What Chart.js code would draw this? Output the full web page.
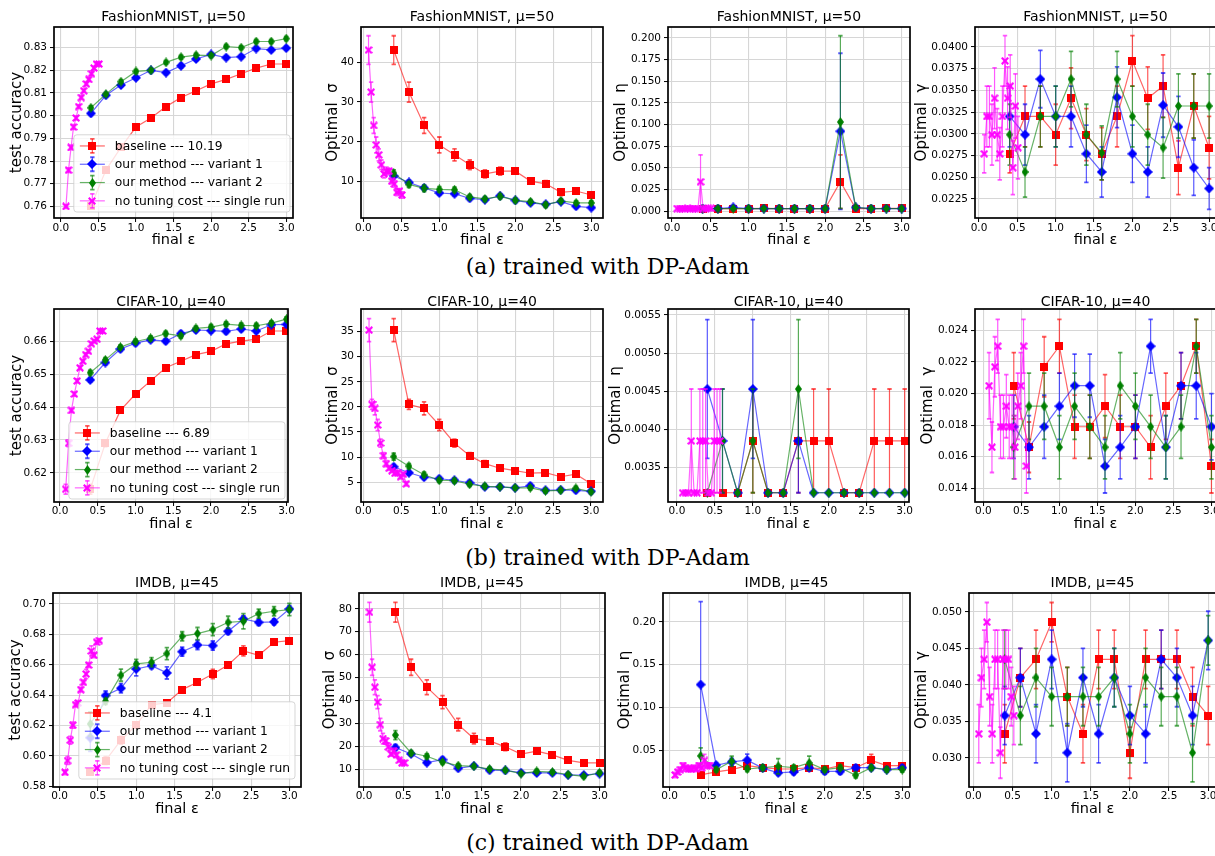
<!DOCTYPE html>
<html><head><meta charset="utf-8">
<script src="https://cdn.jsdelivr.net/npm/chart.js@4.4.0/dist/chart.umd.min.js"></script>
<style>
html,body{margin:0;padding:0;background:#fff;width:1215px;height:856px;overflow:hidden;position:relative;}
canvas{position:absolute;}
.cap{position:absolute;left:0;width:1215px;text-align:center;font-family:"DejaVu Serif",serif;font-size:22px;line-height:26px;color:#000;}
</style></head><body>
<div class="cap" style="top:254px">(a) trained with DP-Adam</div>
<div class="cap" style="top:545px">(b) trained with DP-Adam</div>
<div class="cap" style="top:830px">(c) trained with DP-Adam</div>
<script>
// ---------------- data ----------------
const EPS = [0.4,0.6,0.8,1.0,1.2,1.4,1.6,1.8,2.0,2.2,2.4,2.6,2.8,3.0];
const X_TICKS = [0.0,0.5,1.0,1.5,2.0,2.5,3.0];
const FM_EPS_SINGLE = [0.068,0.102,0.136,0.169,0.203,0.237,0.271,0.305,0.339,0.373,0.407,0.441,0.475,0.508];
const CF_EPS_SINGLE = [0.075,0.113,0.151,0.189,0.226,0.264,0.302,0.340,0.377,0.415,0.453,0.491,0.528,0.566];
const IM_EPS_SINGLE = [0.069,0.103,0.138,0.172,0.207,0.241,0.276,0.310,0.345,0.379,0.414,0.448,0.483,0.517];

const LEG_FM = ['baseline --- 10.19','our method --- variant 1','our method --- variant 2','no tuning cost --- single run'];
const LEG_CF = ['baseline --- 6.89','our method --- variant 1','our method --- variant 2','no tuning cost --- single run'];
const LEG_IM = ['baseline --- 4.1','our method --- variant 1','our method --- variant 2','no tuning cost --- single run'];

// FashionMNIST, mu=50
const FM_ACC_BASE = [0.760,0.776,0.786,0.795,0.799,0.804,0.808,0.811,0.814,0.816,0.8185,0.821,0.8228,0.8228];
const FM_ACC_BASE_ERR = [0.0008,0.001,0.001,0.001,0.0008,0.0008,0.0008,0.0007,0.0007,0.0007,0.0007,0.0007,0.0006,0.0006];
const FM_ACC_V1 = [0.801,0.809,0.8135,0.8167,0.820,0.819,0.822,0.825,0.827,0.8256,0.826,0.8296,0.829,0.8298];
const FM_ACC_V1_ERR = [0.0008,0.0008,0.0008,0.0008,0.0007,0.0008,0.001,0.0008,0.0007,0.0008,0.0008,0.0008,0.0007,0.0007];
const FM_ACC_V2 = [0.8035,0.8095,0.815,0.8195,0.820,0.8235,0.8258,0.8267,0.8265,0.8305,0.830,0.8327,0.8327,0.834];
const FM_ACC_V2_ERR = [0.0008,0.0008,0.0008,0.0008,0.0008,0.0008,0.0008,0.0008,0.0008,0.0008,0.0008,0.0008,0.0008,0.0009];
const FM_ACC_TICKS = [0.76,0.77,0.78,0.79,0.80,0.81,0.82,0.83];

const FM_SIG_BASE = [43.1,32.5,24.1,19.2,16.7,14.2,11.9,12.6,12.6,10.1,9.4,7.25,7.6,6.6];
const FM_SIG_BASE_ERR = [3.6,2.5,2.0,2.0,1.5,1.2,1.0,1.0,0.6,0.7,0.8,0.8,0.6,0.8];
const FM_SIG_V1 = [11.4,9.75,8.4,7.1,6.9,5.75,5.4,6.4,5.25,4.6,4.25,4.9,3.75,3.4];
const FM_SIG_V1_ERR = [0.6,0.6,0.6,0.5,0.5,0.5,0.5,0.5,0.5,0.5,0.5,0.5,0.5,0.5];
const FM_SIG_V2 = [12.1,9.25,8.25,8.0,7.9,6.1,5.6,6.25,5.25,4.9,4.1,5.1,4.6,4.6];
const FM_SIG_V2_ERR = [0.8,0.7,0.8,0.7,0.7,0.6,0.6,0.6,0.5,0.5,0.6,0.5,0.5,0.5];
const FM_SIG_TICKS = [10,20,30,40];

const FM_ETA_BASE = [0.0032,0.0032,0.0032,0.0032,0.0035,0.0032,0.0032,0.0032,0.0032,0.0341,0.0032,0.0032,0.0035,0.0035];
const FM_ETA_BASE_ERR = [0,0,0,0,0,0,0,0,0,0.031,0,0,0,0];
const FM_ETA_V1 = [0.0032,0.0032,0.0045,0.0032,0.0032,0.0032,0.0032,0.0032,0.0032,0.0923,0.0045,0.0032,0.0032,0.0032];
const FM_ETA_V1_ERR = [0,0,0,0,0,0,0,0,0,0.090,0,0,0,0];
const FM_ETA_V2 = [0.0032,0.0032,0.0032,0.0032,0.0032,0.0032,0.0032,0.0032,0.0032,0.103,0.0045,0.0032,0.0032,0.0032];
const FM_ETA_V2_ERR = [0,0,0,0,0,0,0,0,0,0.0995,0,0,0,0];
const FM_ETA_TICKS = [0.000,0.025,0.050,0.075,0.100,0.125,0.150,0.175,0.200];

const FM_GAM_BASE = [0.0277,0.0320,0.0320,0.0299,0.0341,0.0299,0.0277,0.0320,0.0384,0.0341,0.0355,0.0261,0.0332,0.0284];
const FM_GAM_BASE_ERR = [0.0022,0.0035,0.0035,0.0035,0.0035,0.0030,0.0030,0.0035,0.0029,0.0036,0.0036,0.0031,0.0037,0.0036];
const FM_GAM_V1 = [0.0320,0.0299,0.0363,0.0320,0.0320,0.0277,0.0256,0.0342,0.0277,0.0256,0.0333,0.0308,0.0261,0.0237];
const FM_GAM_V1_ERR = [0.0035,0.0035,0.0033,0.0035,0.0035,0.0033,0.0029,0.0035,0.0033,0.0029,0.0037,0.0035,0.0032,0.0024];
const FM_GAM_V2 = [0.0299,0.0256,0.0320,0.0320,0.0363,0.0299,0.0278,0.0363,0.0320,0.0299,0.0284,0.0332,0.0332,0.0332];
const FM_GAM_V2_ERR = [0.0035,0.0029,0.0035,0.0035,0.0032,0.0035,0.0031,0.0032,0.0035,0.0035,0.0035,0.0037,0.0037,0.0037];
const FM_GAM_TICKS = [0.0225,0.0250,0.0275,0.0300,0.0325,0.0350,0.0375,0.0400];

// CIFAR-10, mu=40
const CF_ACC_BASE = [0.615,0.629,0.639,0.644,0.648,0.652,0.654,0.656,0.657,0.6593,0.6601,0.6607,0.6632,0.6632];
const CF_ACC_BASE_ERR = [0.0015,0.001,0.0006,0.0006,0.0006,0.0006,0.0005,0.0005,0.0005,0.0005,0.0005,0.0005,0.0005,0.0005];
const CF_ACC_V1 = [0.6483,0.6536,0.6577,0.6595,0.6605,0.6601,0.6624,0.6635,0.6633,0.6631,0.6638,0.6632,0.6651,0.6652];
const CF_ACC_V1_ERR = [0.0007,0.0007,0.0007,0.0007,0.0007,0.0007,0.0007,0.0007,0.0007,0.0007,0.0007,0.0007,0.0007,0.0007];
const CF_ACC_V2 = [0.6505,0.6544,0.6583,0.6600,0.6610,0.6624,0.6617,0.6640,0.6644,0.6653,0.6649,0.6648,0.6656,0.6668];
const CF_ACC_V2_ERR = [0.0007,0.0007,0.0007,0.0007,0.0007,0.0007,0.0007,0.0007,0.0007,0.0007,0.0007,0.0007,0.0007,0.0007];
const CF_ACC_TICKS = [0.62,0.63,0.64,0.65,0.66];

const CF_SIG_BASE = [35.3,20.5,19.7,16.4,12.8,10.3,8.7,7.8,7.3,6.8,6.9,6.1,6.6,4.7];
const CF_SIG_BASE_ERR = [2.3,1.0,1.3,1.1,0.8,0.6,0.6,0.4,0.4,0.4,0.4,0.4,0.4,0.4];
const CF_SIG_V1 = [8.1,6.9,6.0,5.7,5.4,4.9,4.1,4.1,3.9,4.3,3.4,3.5,3.4,3.2];
const CF_SIG_V1_ERR = [0.4,0.4,0.4,0.4,0.4,0.4,0.4,0.4,0.4,0.4,0.4,0.4,0.4,0.4];
const CF_SIG_V2 = [10.1,8.2,6.5,5.4,5.3,4.6,4.2,4.1,3.9,3.9,3.3,3.4,3.8,3.1];
const CF_SIG_V2_ERR = [0.7,0.5,0.5,0.4,0.4,0.4,0.4,0.4,0.4,0.4,0.4,0.4,0.4,0.4];
const CF_SIG_TICKS = [5,10,15,20,25,30,35];

const CF_ETA_BASE = [0.00317,0.00317,0.00317,0.00385,0.00317,0.00317,0.00385,0.00385,0.00385,0.00317,0.00317,0.00385,0.00385,0.00385];
const CF_ETA_BASE_ERR = [0,0,0,0.00068,0,0,0.00068,0.00068,0.00068,0,0,0.00068,0.00068,0.00068];
const CF_ETA_V1 = [0.00453,0.00385,0.00317,0.00453,0.00317,0.00317,0.00385,0.00317,0.00317,0.00317,0.00317,0.00317,0.00317,0.00317];
const CF_ETA_V1_ERR = [0.00091,0.00068,0,0.00091,0,0,0.00068,0,0,0,0,0,0,0];
const CF_ETA_V2 = [0.00317,0.00385,0.00317,0.00385,0.00317,0.00317,0.00453,0.00317,0.00317,0.00317,0.00317,0.00317,0.00317,0.00317];
const CF_ETA_V2_ERR = [0,0.00068,0,0.00068,0,0,0.00091,0,0,0,0,0,0,0];
const CF_ETA_TICKS = [0.0035,0.0040,0.0045,0.0050,0.0055];

const CF_GAM_BASE = [0.0205,0.0166,0.0217,0.0230,0.0179,0.0179,0.0192,0.0179,0.0179,0.0166,0.0192,0.0205,0.0230,0.0154];
const CF_GAM_BASE_ERR = [0.0021,0.0016,0.0019,0.0017,0.0020,0.0020,0.0020,0.0020,0.0020,0.0020,0.0021,0.0021,0.0017,0.0017];
const CF_GAM_V1 = [0.0179,0.0166,0.0179,0.0192,0.0205,0.0205,0.0154,0.0166,0.0179,0.0230,0.0166,0.0205,0.0205,0.0179];
const CF_GAM_V1_ERR = [0.0020,0.0020,0.0020,0.0021,0.0020,0.0020,0.0017,0.0020,0.0020,0.0017,0.0020,0.0021,0.0021,0.0021];
const CF_GAM_V2 = [0.0166,0.0192,0.0192,0.0166,0.0192,0.0179,0.0166,0.0205,0.0192,0.0179,0.0166,0.0179,0.0230,0.0166];
const CF_GAM_V2_ERR = [0.0020,0.0021,0.0021,0.0020,0.0021,0.0020,0.0020,0.0021,0.0021,0.0020,0.0020,0.0020,0.0017,0.0020];
const CF_GAM_TICKS = [0.014,0.016,0.018,0.020,0.022,0.024];

// IMDB, mu=45
const IM_ACC_BASE = [0.5892,0.5969,0.6103,0.6202,0.6337,0.6348,0.6436,0.6484,0.6539,0.6598,0.6691,0.6662,0.6748,0.6759];
const IM_ACC_BASE_ERR = [0.0015,0.0025,0.0025,0.002,0.0015,0.0015,0.0015,0.0015,0.003,0.0015,0.0033,0.0015,0.0012,0.0012];
const IM_ACC_V1 = [0.612,0.6397,0.6445,0.6572,0.6594,0.6546,0.6686,0.6730,0.6726,0.6820,0.6901,0.6879,0.6882,0.6967];
const IM_ACC_V1_ERR = [0.009,0.003,0.003,0.0045,0.002,0.004,0.003,0.003,0.003,0.002,0.002,0.002,0.002,0.002];
const IM_ACC_V2 = [0.621,0.6359,0.6531,0.6605,0.6616,0.6673,0.6787,0.6805,0.6831,0.6879,0.6886,0.6936,0.6952,0.6963];
const IM_ACC_V2_ERR = [0.008,0.002,0.004,0.003,0.003,0.004,0.003,0.004,0.004,0.004,0.005,0.003,0.003,0.004];
const IM_ACC_TICKS = [0.58,0.60,0.62,0.64,0.66,0.68,0.70];

const IM_SIG_BASE = [78.5,54.5,45.8,39.3,29.5,23.4,22.4,19.8,16.6,17.9,16.3,13.9,12.8,12.8];
const IM_SIG_BASE_ERR = [4.3,3.5,3.2,2.8,2.7,2.3,1.3,1.7,0.8,1.3,1.0,0.7,1.2,0.8];
const IM_SIG_V1 = [19.5,16.7,12.9,14.2,10.4,11.5,9.6,9.5,8.5,8.4,8.4,7.5,7.5,8.1];
const IM_SIG_V1_ERR = [1.2,1.0,1.0,1.0,0.8,0.8,0.8,0.8,0.8,0.8,0.8,0.8,0.8,0.8];
const IM_SIG_V2 = [24.9,17.1,15.7,13.1,11.6,11.3,10.1,9.6,8.1,9.1,8.8,7.7,6.9,8.5];
const IM_SIG_V2_ERR = [2.0,1.0,1.0,1.0,0.8,0.8,0.8,0.8,0.8,0.8,0.8,0.8,0.8,0.8];
const IM_SIG_TICKS = [10,20,30,40,50,60,70,80];

const IM_ETA_BASE = [0.021,0.0245,0.0272,0.032,0.0295,0.028,0.028,0.0295,0.028,0.032,0.0295,0.038,0.032,0.032];
const IM_ETA_BASE_ERR = [0.003,0.003,0.003,0.003,0.003,0.003,0.003,0.003,0.003,0.003,0.003,0.007,0.003,0.003];
const IM_ETA_V1 = [0.1268,0.0324,0.0363,0.0383,0.029,0.0235,0.0245,0.0295,0.0251,0.0251,0.0295,0.0295,0.0272,0.0295];
const IM_ETA_V1_ERR = [0.097,0.003,0.004,0.007,0.003,0.003,0.003,0.003,0.003,0.003,0.003,0.003,0.003,0.003];
const IM_ETA_V2 = [0.0433,0.0272,0.0370,0.028,0.0295,0.0312,0.0295,0.035,0.0272,0.0295,0.0207,0.0295,0.0272,0.0272];
const IM_ETA_V2_ERR = [0.0094,0.003,0.006,0.003,0.003,0.009,0.003,0.008,0.003,0.003,0.003,0.003,0.003,0.003];
const IM_ETA_TICKS = [0.05,0.10,0.15,0.20];

const IM_GAM_BASE = [0.0333,0.0410,0.0435,0.0486,0.0384,0.0333,0.0435,0.0435,0.0307,0.0435,0.0435,0.0435,0.0384,0.0358];
const IM_GAM_BASE_ERR = [0.004,0.004,0.004,0.0027,0.004,0.004,0.004,0.004,0.0035,0.004,0.004,0.004,0.004,0.004];
const IM_GAM_V1 = [0.0358,0.0410,0.0333,0.0435,0.0307,0.0410,0.0333,0.0410,0.0358,0.0333,0.0435,0.0410,0.0358,0.0461];
const IM_GAM_V1_ERR = [0.004,0.004,0.004,0.004,0.004,0.004,0.004,0.004,0.004,0.004,0.004,0.004,0.004,0.004];
const IM_GAM_V2 = [0.0435,0.0358,0.0410,0.0384,0.0384,0.0384,0.0384,0.0410,0.0333,0.0410,0.0384,0.0384,0.0307,0.0461];
const IM_GAM_V2_ERR = [0.004,0.004,0.004,0.004,0.004,0.004,0.004,0.004,0.004,0.004,0.004,0.004,0.004,0.0034];
const IM_GAM_TICKS = [0.030,0.035,0.040,0.045,0.050];

// ---------------- layout / panels ----------------
const PANELS = [
 {box:[54,27,293,218], xr:[-0.091,3.09], tCY:17, yCX:17, xCY:240, xPad:0, title:'FashionMNIST, μ=50', ylab:'test accuracy', yr:[0.7549,0.8391], yt:FM_ACC_TICKS, dec:2,
  base:FM_ACC_BASE, baseErr:FM_ACC_BASE_ERR, v1:FM_ACC_V1, v1Err:FM_ACC_V1_ERR, v2:FM_ACC_V2, v2Err:FM_ACC_V2_ERR, xs1:FM_EPS_SINGLE, labels:LEG_FM, legend:{r:3,b:6}},
 {box:[361,27,603,218], xr:[-0.031,3.154], tCY:17, yCX:333, xCY:240, xPad:0, title:'FashionMNIST, μ=50', ylab:'Optimal  σ', yr:[0.8,48.9], yt:FM_SIG_TICKS, dec:0,
  base:FM_SIG_BASE, baseErr:FM_SIG_BASE_ERR, v1:FM_SIG_V1, v1Err:FM_SIG_V1_ERR, v2:FM_SIG_V2, v2Err:FM_SIG_V2_ERR, xs1:FM_EPS_SINGLE, labels:LEG_FM},
 {box:[668,27,910,218], xr:[-0.052,3.109], tCY:17, yCX:621, xCY:240, xPad:0, title:'FashionMNIST, μ=50', ylab:'Optimal  η', yr:[-0.0077,0.2126], yt:FM_ETA_TICKS, dec:3,
  base:FM_ETA_BASE, baseErr:FM_ETA_BASE_ERR, v1:FM_ETA_V1, v1Err:FM_ETA_V1_ERR, v2:FM_ETA_V2, v2Err:FM_ETA_V2_ERR, xs1:FM_EPS_SINGLE, labels:LEG_FM},
 {box:[975,27,1216,218], xr:[-0.052,3.09], tCY:17, yCX:922, xCY:240, xPad:0, title:'FashionMNIST, μ=50', ylab:'Optimal  γ', yr:[0.0203,0.0423], yt:FM_GAM_TICKS, dec:4,
  base:FM_GAM_BASE, baseErr:FM_GAM_BASE_ERR, v1:FM_GAM_V1, v1Err:FM_GAM_V1_ERR, v2:FM_GAM_V2, v2Err:FM_GAM_V2_ERR, xs1:FM_EPS_SINGLE, labels:LEG_FM},

 {box:[54,309,288,502], xr:[-0.08,3.02], tCY:302, yCX:17, xCY:524, xPad:-1, title:'CIFAR-10, μ=40', ylab:'test accuracy', yr:[0.6111,0.6699], yt:CF_ACC_TICKS, dec:2,
  base:CF_ACC_BASE, baseErr:CF_ACC_BASE_ERR, v1:CF_ACC_V1, v1Err:CF_ACC_V1_ERR, v2:CF_ACC_V2, v2Err:CF_ACC_V2_ERR, xs1:CF_EPS_SINGLE, labels:LEG_CF, legend:{r:3,b:3}},
 {box:[361,309,603,502], xr:[-0.031,3.158], tCY:302, yCX:333, xCY:524, xPad:-1, title:'CIFAR-10, μ=40', ylab:'Optimal  σ', yr:[1.07,39.5], yt:CF_SIG_TICKS, dec:0,
  base:CF_SIG_BASE, baseErr:CF_SIG_BASE_ERR, v1:CF_SIG_V1, v1Err:CF_SIG_V1_ERR, v2:CF_SIG_V2, v2Err:CF_SIG_V2_ERR, xs1:CF_EPS_SINGLE, labels:LEG_CF},
 {box:[668,309,909,502], xr:[-0.118,3.057], tCY:302, yCX:616, xCY:524, xPad:-1, title:'CIFAR-10, μ=40', ylab:'Optimal  η', yr:[0.003049,0.005579], yt:CF_ETA_TICKS, dec:4,
  base:CF_ETA_BASE, baseErr:CF_ETA_BASE_ERR, v1:CF_ETA_V1, v1Err:CF_ETA_V1_ERR, v2:CF_ETA_V2, v2Err:CF_ETA_V2_ERR, xs1:CF_EPS_SINGLE, labels:LEG_CF},
 {box:[975,309,1216,502], xr:[-0.11,3.06], tCY:302, yCX:928, xCY:524, xPad:-1, title:'CIFAR-10, μ=40', ylab:'Optimal  γ', yr:[0.01313,0.02536], yt:CF_GAM_TICKS, dec:3,
  base:CF_GAM_BASE, baseErr:CF_GAM_BASE_ERR, v1:CF_GAM_V1, v1Err:CF_GAM_V1_ERR, v2:CF_GAM_V2, v2Err:CF_GAM_V2_ERR, xs1:CF_EPS_SINGLE, labels:LEG_CF},

 {box:[53,593,301,787], xr:[-0.087,3.152], tCY:583, yCX:16, xCY:809, xPad:-1, title:'IMDB, μ=45', ylab:'test accuracy', yr:[0.5795,0.7072], yt:IM_ACC_TICKS, dec:2,
  base:IM_ACC_BASE, baseErr:IM_ACC_BASE_ERR, v1:IM_ACC_V1, v1Err:IM_ACC_V1_ERR, v2:IM_ACC_V2, v2Err:IM_ACC_V2_ERR, xs1:IM_EPS_SINGLE, labels:LEG_IM, legend:{r:6,b:8}},
 {box:[359,593,605,787], xr:[-0.064,3.07], tCY:583, yCX:330, xCY:809, xPad:-1, title:'IMDB, μ=45', ylab:'Optimal  σ', yr:[2.27,86.9], yt:IM_SIG_TICKS, dec:0,
  base:IM_SIG_BASE, baseErr:IM_SIG_BASE_ERR, v1:IM_SIG_V1, v1Err:IM_SIG_V1_ERR, v2:IM_SIG_V2, v2Err:IM_SIG_V2_ERR, xs1:IM_EPS_SINGLE, labels:LEG_IM},
 {box:[663,593,910,787], xr:[-0.086,3.1], tCY:583, yCX:625, xCY:809, xPad:-1, title:'IMDB, μ=45', ylab:'Optimal  η', yr:[0.0069,0.234], yt:IM_ETA_TICKS, dec:2,
  base:IM_ETA_BASE, baseErr:IM_ETA_BASE_ERR, v1:IM_ETA_V1, v1Err:IM_ETA_V1_ERR, v2:IM_ETA_V2, v2Err:IM_ETA_V2_ERR, xs1:IM_EPS_SINGLE, labels:LEG_IM},
 {box:[969,593,1216,787], xr:[-0.056,3.1], tCY:583, yCX:922, xCY:809, xPad:-1, title:'IMDB, μ=45', ylab:'Optimal  γ', yr:[0.026,0.0526], yt:IM_GAM_TICKS, dec:3,
  base:IM_GAM_BASE, baseErr:IM_GAM_BASE_ERR, v1:IM_GAM_V1, v1Err:IM_GAM_V1_ERR, v2:IM_GAM_V2, v2Err:IM_GAM_V2_ERR, xs1:IM_EPS_SINGLE, labels:LEG_IM}
];

// ---------------- markers ----------------
const FONT = '"DejaVu Sans", sans-serif';
function mk(w, h, draw) { const c = document.createElement('canvas'); c.width = w; c.height = h; draw(c.getContext('2d'), w, h); return c; }
function poly(g, pts, color) { g.fillStyle = color; g.beginPath(); g.moveTo(pts[0][0], pts[0][1]); for (let i = 1; i < pts.length; i++) g.lineTo(pts[i][0], pts[i][1]); g.closePath(); g.fill(); }
const MK_RED = mk(8, 8, g => { g.fillStyle = '#ff0000'; g.fillRect(0, 0, 8, 8); });
const MK_BLUE = mk(10, 10, g => poly(g, [[5,0],[10,5],[5,10],[0,5]], '#0000ff'));
const MK_GREEN = mk(7, 10, g => poly(g, [[3.5,0],[7,5],[3.5,10],[0,5]], '#008000'));
const MK_MAG = mk(8, 8, g => poly(g, [[0,1.5],[1.5,0],[4,2.5],[6.5,0],[8,1.5],[5.5,4],[8,6.5],[6.5,8],[4,5.5],[1.5,8],[0,6.5],[2.5,4]], '#ff00ff'));

const STYLES = [
  {line:'rgba(255,0,0,0.6)', err:'rgba(255,0,0,0.65)', mk:MK_RED, order:4},
  {line:'rgba(0,0,255,0.6)', err:'rgba(0,0,255,0.65)', mk:MK_BLUE, order:3},
  {line:'rgba(0,128,0,0.6)', err:'rgba(0,128,0,0.65)', mk:MK_GREEN, order:2},
  {line:'rgba(255,0,255,0.6)', err:'rgba(255,0,255,0.65)', mk:MK_MAG, order:1}
];

const errPlugin = {
  id: 'errbars',
  beforeDatasetDraw(chart, args) {
    const ds = chart.data.datasets[args.index];
    if (!ds.errs) return;
    const ctx = chart.ctx, ca = chart.chartArea, ys = chart.scales.y;
    ctx.save();
    ctx.beginPath(); ctx.rect(ca.left, ca.top, ca.right - ca.left, ca.bottom - ca.top); ctx.clip();
    ctx.strokeStyle = ds.errColor;
    args.meta.data.forEach((pt, i) => {
      const e = ds.errs[i]; if (!e) return;
      const v = ds.data[i].y;
      const t = ys.getPixelForValue(v + e), b = ys.getPixelForValue(v - e);
      ctx.lineWidth = 1.2;
      ctx.beginPath(); ctx.moveTo(pt.x, t); ctx.lineTo(pt.x, b); ctx.stroke();
      ctx.lineWidth = 1.8;
      ctx.beginPath(); ctx.moveTo(pt.x - 2.2, t); ctx.lineTo(pt.x + 2.2, t); ctx.moveTo(pt.x - 2.2, b); ctx.lineTo(pt.x + 2.2, b); ctx.stroke();
    });
    ctx.restore();
  }
};

function framePlugin(p) {
  return {
    id: 'frameLegend',
    afterDatasetsDraw(chart) {
      if (!p.legend) return;
      const ctx = chart.ctx, ca = chart.chartArea;
      ctx.save();
      ctx.font = '12.3px ' + FONT;
      const labels = chart.data.datasets.map(d => d.label);
      const tw = Math.max(...labels.map(l => ctx.measureText(l).width));
      const pad = 6, hl = 25, gap = 10, pitch = 18.3;
      const w = pad + hl + gap + tw + 5, h = pitch * 4 + 4;
      const x0 = ca.right - p.legend.r - w, y0 = ca.bottom - p.legend.b - h;
      ctx.beginPath();
      if (ctx.roundRect) ctx.roundRect(x0, y0, w, h, 3); else ctx.rect(x0, y0, w, h);
      ctx.fillStyle = 'rgba(255,255,255,0.8)'; ctx.fill();
      ctx.strokeStyle = 'rgba(204,204,204,0.8)'; ctx.lineWidth = 1; ctx.stroke();
      chart.data.datasets.forEach((ds, i) => {
        const cy = y0 + 2 + pitch * (i + 0.5);
        const cx = x0 + pad + hl / 2;
        ctx.strokeStyle = ds.borderColor; ctx.lineWidth = 1.2;
        ctx.beginPath(); ctx.moveTo(x0 + pad, cy); ctx.lineTo(x0 + pad + hl, cy); ctx.stroke();
        ctx.strokeStyle = ds.errColor;
        ctx.beginPath(); ctx.moveTo(cx, cy - 7); ctx.lineTo(cx, cy + 7); ctx.stroke();
        ctx.lineWidth = 1.8;
        ctx.beginPath(); ctx.moveTo(cx - 2.2, cy - 7); ctx.lineTo(cx + 2.2, cy - 7); ctx.moveTo(cx - 2.2, cy + 7); ctx.lineTo(cx + 2.2, cy + 7); ctx.stroke();
        const m = ds.pointStyle;
        ctx.drawImage(m, Math.round(cx - m.width / 2), Math.round(cy - m.height / 2));
        ctx.fillStyle = '#000'; ctx.textBaseline = 'middle'; ctx.textAlign = 'left';
        ctx.fillText(ds.label, x0 + pad + hl + gap, cy + 0.5);
      });
      ctx.restore();
    },
    afterDraw(chart) {
      const ctx = chart.ctx, ca = chart.chartArea;
      ctx.save();
      ctx.strokeStyle = '#000'; ctx.lineWidth = 1.7;
      ctx.strokeRect(ca.left, ca.top, ca.right - ca.left, ca.bottom - ca.top);
      ctx.restore();
    }
  };
}

function makePanel(p) {
  const [bl, bt, br, bb] = p.box;
  const R = 14;
  const cl = Math.floor(p.yCX - 7.5);
  const yTitlePad = p.yCX - 7.5 - cl;
  const ct = Math.floor(p.tCY - 7);
  const tPadTop = p.tCY - 7 - ct;
  const tPadBot = Math.max(0, bt - ct - 14 - tPadTop);
  const cb = Math.ceil(p.xCY + 7.25);
  const xTitlePad = cb - 7.25 - p.xCY;
  const W = bl - cl, H = cb - bb;
  const canvas = document.createElement('canvas');
  canvas.width = br + R - cl; canvas.height = cb - ct;
  canvas.style.left = cl + 'px'; canvas.style.top = ct + 'px';
  canvas.style.width = canvas.width + 'px'; canvas.style.height = canvas.height + 'px';
  document.body.appendChild(canvas);

  const series = [
    {x: EPS, y: p.base, e: p.baseErr},
    {x: EPS, y: p.v1, e: p.v1Err},
    {x: EPS, y: p.v2, e: p.v2Err},
    {x: p.xs1, y: p.base, e: p.baseErr}
  ];
  const datasets = series.map((s, i) => ({
    label: p.labels[i],
    data: s.x.map((x, j) => ({x: x, y: s.y[j]})),
    errs: s.e,
    errColor: STYLES[i].err,
    borderColor: STYLES[i].line,
    backgroundColor: STYLES[i].line,
    borderWidth: 1.2,
    pointStyle: STYLES[i].mk,
    pointRadius: 4, pointHoverRadius: 4,
    tension: 0, fill: false, order: STYLES[i].order
  }));
  const gridCfg = {color: '#d6d6d6', lineWidth: 1.1, tickColor: '#000', tickLength: 4, tickWidth: 1, drawTicks: true};
  new Chart(canvas, {
    type: 'line',
    data: {datasets},
    options: {
      responsive: false, animation: false, devicePixelRatio: 1, events: [],
      layout: {padding: {left: 0, top: 0, right: R, bottom: 0}},
      plugins: {
        legend: {display: false}, tooltip: {enabled: false},
        title: {display: true, text: p.title, fullSize: false, color: '#000',
          font: {family: FONT, size: 14, weight: 'normal', lineHeight: 1},
          padding: {top: tPadTop, bottom: tPadBot}}
      },
      scales: {
        x: {type: 'linear', min: p.xr[0], max: p.xr[1],
          afterBuildTicks: s => { s.ticks = X_TICKS.map(v => ({value: v})); },
          afterFit: s => { s.height = H; },
          ticks: {callback: v => Number(v).toFixed(1), color: '#000', font: {family: FONT, size: 10.5}, padding: p.xPad, maxRotation: 0, autoSkip: false},
          grid: gridCfg, border: {display: false},
          title: {display: true, text: 'final ε', color: '#000', font: {family: FONT, size: 14.5, lineHeight: 1}, padding: {top: 0, bottom: xTitlePad}}
        },
        y: {type: 'linear', min: p.yr[0], max: p.yr[1],
          afterBuildTicks: s => { s.ticks = p.yt.map(v => ({value: v})); },
          afterFit: s => { s.width = W; },
          ticks: {callback: v => Number(v).toFixed(p.dec), color: '#000', font: {family: FONT, size: 10.5}, padding: 3, autoSkip: false},
          grid: gridCfg, border: {display: false},
          title: {display: true, text: p.ylab, color: '#000', font: {family: FONT, size: 15, lineHeight: 1}, padding: {top: yTitlePad, bottom: 0}}
        }
      }
    },
    plugins: [errPlugin, framePlugin(p)]
  });
}
PANELS.forEach(makePanel);
</script>
</body></html>
